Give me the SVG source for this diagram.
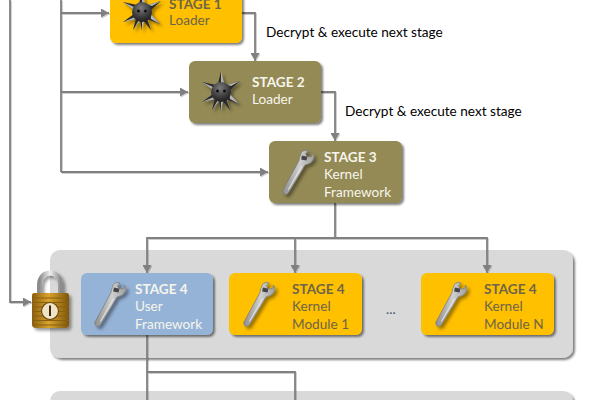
<svg xmlns="http://www.w3.org/2000/svg" width="591" height="400" viewBox="0 0 591 400">
<style>
text{font-family:Lato,"Noto Sans","Liberation Sans",sans-serif;font-size:13.6px}
.b{font-weight:700}
.w{fill:#f7f5ec}
.g{fill:#6e6548}
.c{fill:none;stroke:#808080;stroke-width:1.8}
.panel{fill:#d9d9d9;filter:url(#s)}
.box{filter:url(#s)}
.l{fill:#b5b5b5}
.d{fill:#2a2a2a}
</style>
<defs>
<filter id="s" x="-10%" y="-10%" width="125%" height="125%"><feDropShadow dx="2" dy="2" stdDeviation="1.2" flood-color="#000" flood-opacity=".5"/></filter>
<filter id="i" x="-30%" y="-30%" width="170%" height="170%"><feDropShadow dx="2.5" dy="2.5" stdDeviation="1.6" flood-color="#000" flood-opacity=".4"/></filter>
<filter id="ls" x="-5%" y="-5%" width="110%" height="110%"><feDropShadow dx="1" dy="1" stdDeviation=".6" flood-color="#000" flood-opacity=".2"/></filter>
<marker id="a" markerUnits="userSpaceOnUse" markerWidth="8" markerHeight="9" refX="8" refY="4.5" orient="auto"><path d="M0 0L8 4.5L0 9z" fill="#808080"/></marker>
<radialGradient id="ball" cx=".45" cy=".3" r=".75"><stop offset="0" stop-color="#7c7c7c"/><stop offset=".6" stop-color="#3c3c3c"/><stop offset="1" stop-color="#191919"/></radialGradient>
<linearGradient id="wr" x1="0" x2="1" y1="0" y2="0"><stop offset="0" stop-color="#8f8f8f"/><stop offset=".55" stop-color="#cfcfcf"/><stop offset="1" stop-color="#a0a0a0"/></linearGradient>
<linearGradient id="gold" x1="0" x2="1"><stop offset="0" stop-color="#8a5f10"/><stop offset=".45" stop-color="#d9a42c"/><stop offset="1" stop-color="#7d560c"/></linearGradient>
<linearGradient id="sh" x1="0" x2="1"><stop offset="0" stop-color="#8c8c8c"/><stop offset=".5" stop-color="#f0f0f0"/><stop offset="1" stop-color="#8c8c8c"/></linearGradient>
<g id="mine" filter="url(#i)">
<path class="d" d="M-3-8L0-21L0-8z"/><path class="l" d="M3-8L0-21L0-8z"/>
<path class="d" d="M6-7L19-11L8-1z"/><path class="l" d="M6-7L19-11L10-6z"/>
<path class="d" d="M8 1L18 12L5 7z"/><path class="l" d="M8 1L18 12L9 7z"/>
<path class="d" d="M5 6L9 18L1 8z"/><path class="l" d="M5 6L9 18L6 8z"/>
<path class="d" d="M-2 8L0 19L0 8z"/><path class="l" d="M2 8L0 19L0 8z"/>
<path class="d" d="M-6 6L-9 18L-1 8z"/><path class="l" d="M-1 8L-9 18L-3 8z"/>
<path class="d" d="M-8 2L-19 10L-5 7z"/><path class="l" d="M-5 7L-19 10L-7 5z"/>
<path class="d" d="M-8-2L-19-10L-5-7z"/><path class="l" d="M-8-2L-19-10L-8-5z"/>
<circle r="10" fill="url(#ball)"/>
<circle cx="-3.5" cy="-1" r="1.5" fill="#111"/><circle cx="3.5" cy="-1" r="1.5" fill="#111"/>
</g>
<g id="wrench" filter="url(#i)">
<path d="M-17 19C-18 21.500-15.500 24.500-13 23C-12 22.500-11.500 21.500-10.500 20L5-6C8.500-7 11.500-8 13-11C14-13 14.500-15 12.500-18L11.500-14.500L7.500-14L5.500-17L8-20C5-21 2-20.500 1-17.500C0-14.500-1-12-1-10.500z" fill="url(#wr)" stroke="#777" stroke-width=".7"/>
<rect x="1.500" y="-15" width="5.500" height="4" fill="#444" transform="rotate(12 4 -13)"/>
<path d="M-11.500 18.500L1.500-4.500" stroke="#e8e8e8" stroke-width="1" fill="none"/>
</g>
</defs>

<rect width="591" height="400" fill="#fff"/>

<g id="panel-1"><rect class="panel" x="50" y="250" width="523" height="108" rx="10"/></g>
<g id="panel-2"><rect class="panel" x="50" y="391" width="523" height="60" rx="10"/></g>

<g id="connectors" filter="url(#ls)">
<path class="c" d="M10 0V302H31" marker-end="url(#a)"/>
<path class="c" d="M61 0V172"/>
<path class="c" d="M61 13H109" marker-end="url(#a)"/>
<path class="c" d="M61 92H188" marker-end="url(#a)"/>
<path class="c" d="M61 172H268" marker-end="url(#a)"/>
<path class="c" d="M242 13H255V61" marker-end="url(#a)"/>
<path class="c" d="M321 92H335V141" marker-end="url(#a)"/>
<path class="c" d="M335 203V238H147V273" marker-end="url(#a)"/>
<path class="c" d="M295 238V273" marker-end="url(#a)"/>
<path class="c" d="M335 238H487V273" marker-end="url(#a)"/>
<path class="c" d="M147 335V400"/>
<path class="c" d="M147 372H295V400"/>
</g>

<g id="stage1"><rect class="box" x="110" y="-20" width="132" height="63" rx="6" fill="#ffc000"/><use href="#mine" x="142" y="12"/><text x="169" y="9" class="b g">STAGE 1</text><text x="169" y="25" class="g">Loader</text></g>
<g id="stage2"><rect class="box" x="189" y="61" width="132" height="62" rx="6" fill="#948a54"/><use href="#mine" x="221" y="92"/><text x="252" y="87" class="b w">STAGE 2</text><text x="252" y="104" class="w">Loader</text></g>
<g id="stage3"><rect class="box" x="269" y="141" width="133" height="62" rx="6" fill="#948a54"/><use href="#wrench" x="300" y="171"/><text x="324" y="162" class="b w">STAGE 3</text><text x="324" y="179" class="w">Kernel</text><text x="324" y="197" class="w">Framework</text></g>
<g id="stage4-user"><rect class="box" x="81" y="273" width="132" height="62" rx="6" fill="#95b3d7"/><use href="#wrench" x="112" y="303"/><text x="135" y="294" class="b w">STAGE 4</text><text x="135" y="311" class="w">User</text><text x="135" y="329" class="w">Framework</text></g>
<g id="stage4-module1"><rect class="box" x="229" y="273" width="133" height="62" rx="6" fill="#ffc000"/><use href="#wrench" x="261" y="303"/><text x="292" y="294" class="b g">STAGE 4</text><text x="292" y="311" class="g">Kernel</text><text x="292" y="329" class="g">Module 1</text></g>
<g id="stage4-moduleN"><rect class="box" x="421" y="273" width="133" height="62" rx="6" fill="#ffc000"/><use href="#wrench" x="453" y="303"/><text x="484" y="294" class="b g">STAGE 4</text><text x="484" y="311" class="g">Kernel</text><text x="484" y="329" class="g">Module N</text></g>
<g id="dots"><text x="386" y="314" fill="#44546a">...</text></g>

<g id="lock" filter="url(#i)">
<path d="M39.500 296V285C39.500 269 60.500 269 60.500 285V296" fill="none" stroke="url(#sh)" stroke-width="5"/>
<path d="M34 293H67Q69 293 69 296V324Q69 328 65 328H36Q32 328 32 324V296Q32 293 34 293z" fill="url(#gold)"/>
<path d="M32 298H69M32 302.500H69M32 307H69M32 311.500H69M32 316H69M32 320.500H69M32 325H69" stroke="#8a5f10" stroke-width="1"/>
<circle cx="50" cy="311" r="8.500" fill="#efe4c6" stroke="#6b4a0c" stroke-width="1.2"/>
<path d="M50 305.500V316" stroke="#3f2c08" stroke-width="2"/>
</g>

<text x="266" y="37" fill="#000">Decrypt &amp; execute next stage</text>
<text x="345" y="116" fill="#000">Decrypt &amp; execute next stage</text>
</svg>
